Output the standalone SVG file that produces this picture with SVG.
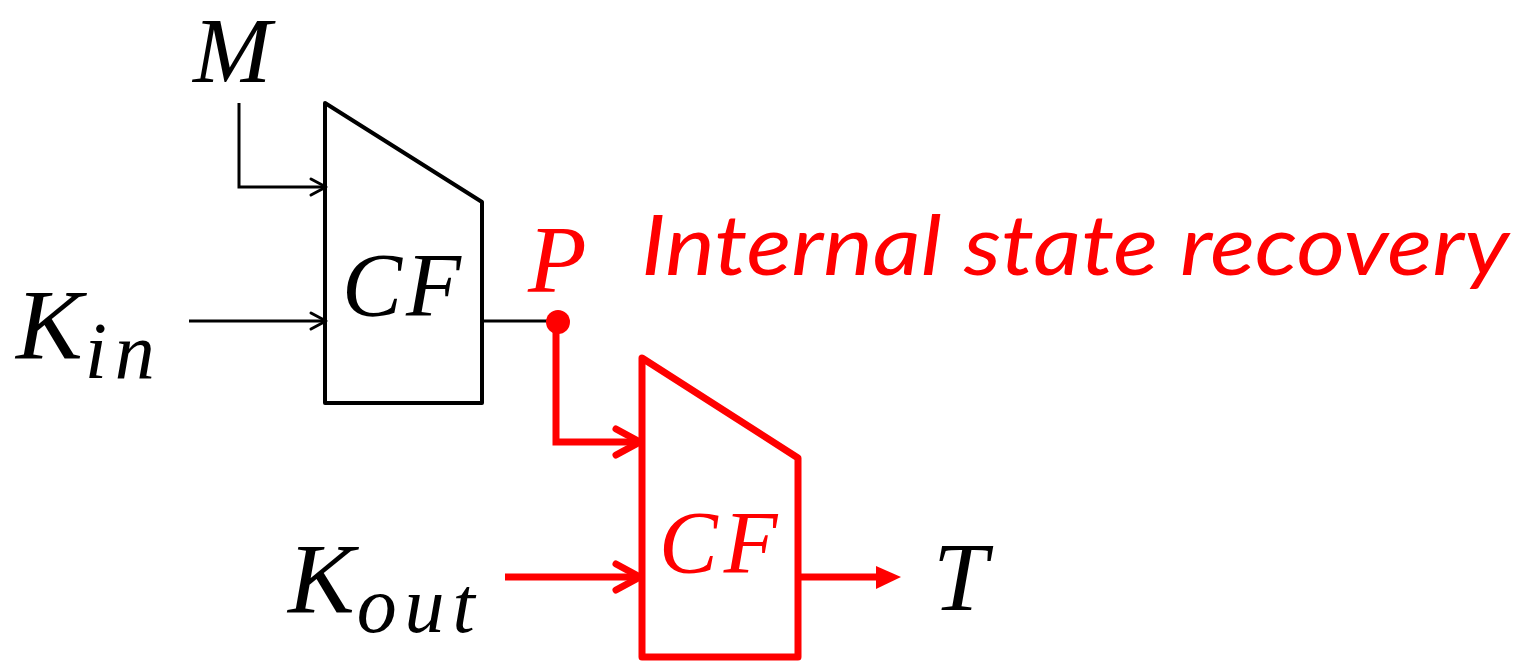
<svg xmlns="http://www.w3.org/2000/svg" width="1528" height="661" viewBox="0 0 1528 661">
<style>
.math{font-family:"Liberation Serif","DejaVu Serif",serif;font-style:italic}
.blk{fill:#000}
.red{fill:#ff0000}
.box1{fill:none;stroke:#000;stroke-width:4;stroke-linejoin:round}
.box2{fill:none;stroke:#ff0000;stroke-width:7;stroke-linejoin:round}
.w1{fill:none;stroke:#000;stroke-width:3}
.w2{fill:none;stroke:#ff0000;stroke-width:7}
.ah1{fill:none;stroke:#000;stroke-width:3;stroke-linecap:round;stroke-linejoin:round}
.ah2{fill:none;stroke:#ff0000;stroke-width:7;stroke-linecap:round;stroke-linejoin:round}
</style>
<rect width="1528" height="661" fill="#fff"/>
<g id="cf1">
<path class="box1" d="M325,103 L482,202 L482,403 L325,403 Z"/>
<text class="math blk" x="342" y="316" font-size="90" letter-spacing="4">CF</text>
</g>
<g id="cf2">
<path class="box2" d="M642,358 L798,458 L798,657 L642,657 Z"/>
<text class="math red" x="659" y="572" font-size="88" letter-spacing="6">CF</text>
</g>
<g id="labels">
<text class="math blk" x="193" y="82" font-size="94">M</text>
<text class="math blk" x="16" y="358" font-size="100">K<tspan font-size="80" dy="20" dx="2" textLength="70" lengthAdjust="spacing">in</tspan></text>
<text class="math blk" x="288" y="612" font-size="100">K<tspan font-size="80" dy="20" dx="2" textLength="118" lengthAdjust="spacing">out</tspan></text>
<text class="math blk" x="933" y="610" font-size="98">T</text>
<text class="math red" x="528" y="292" font-size="96">P</text>
<text class="red" x="641" y="275" font-size="84" font-style="italic" font-family="Lato, 'Open Sans', sans-serif" textLength="868" lengthAdjust="spacingAndGlyphs">Internal state recovery</text>
</g>
<g id="connectors">
<polyline class="w1" points="239,103 239,187 326,187"/>
<polyline class="ah1" points="311,179 326,187 311,195"/>
<line class="w1" x1="189" y1="321" x2="326" y2="321"/>
<polyline class="ah1" points="311,313 326,321 311,329"/>
<line class="w1" x1="482" y1="321" x2="558" y2="321"/>
<circle cx="558" cy="322" r="12" fill="#ff0000"/>
<polyline class="w2" points="556,322 556,442 640,442"/>
<polyline class="ah2" points="616,429 640,442 616,455"/>
<line class="w2" x1="505" y1="577" x2="640" y2="577"/>
<polyline class="ah2" points="616,564 640,577 616,590"/>
<line class="w2" x1="798" y1="577" x2="880" y2="577"/>
<polygon points="876,566 901,577 876,589" fill="#ff0000"/>
</g>
</svg>
